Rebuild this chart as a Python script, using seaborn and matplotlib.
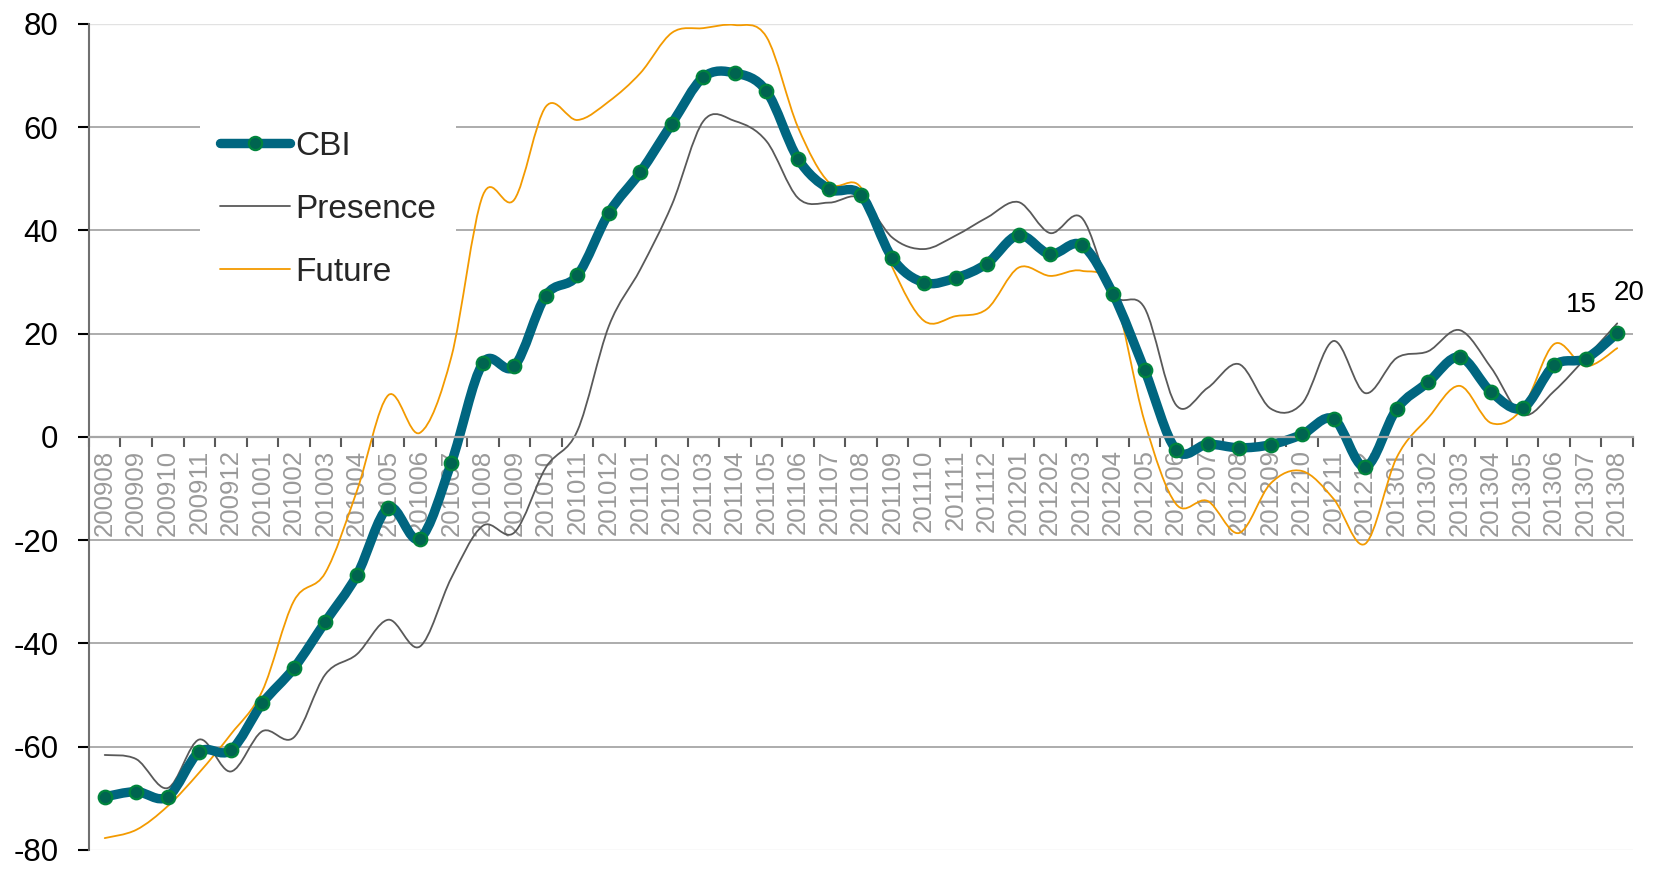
import matplotlib
matplotlib.use("Agg")
import matplotlib.pyplot as plt
from matplotlib.path import Path
from matplotlib.patches import PathPatch
from matplotlib.lines import Line2D
import numpy as np
import pandas as pd
import seaborn as sns

# monthly values
months = ['200908', '200909', '200910', '200911', '200912',
          '201001', '201002', '201003', '201004', '201005', '201006',
          '201007', '201008', '201009', '201010', '201011', '201012',
          '201101', '201102', '201103', '201104', '201105', '201106',
          '201107', '201108', '201109', '201110', '201111', '201112',
          '201201', '201202', '201203', '201204', '201205', '201206',
          '201207', '201208', '201209', '201210', '201211', '201212',
          '201301', '201302', '201303', '201304', '201305', '201306',
          '201307', '201308']

cbi = [-69.7, -68.7, -69.7, -61.0, -60.7, -51.6, -44.8, -35.8, -26.8, -13.7,
       -19.7, -5.0, 14.3, 13.7, 27.4, 31.3, 43.4, 51.3, 60.7, 69.7,
       70.5, 67.0, 53.9, 48.0, 46.9, 34.6, 29.9, 30.8, 33.6, 39.1,
       35.4, 37.2, 27.7, 13.0, -2.5, -1.4, -2.1, -1.5, 0.5, 3.5,
       -5.8, 5.4, 10.6, 15.5, 8.7, 5.6, 13.9, 15.2, 20.1]

presence = [-61.6, -62.4, -68.0, -58.6, -64.8, -57.0, -58.2, -46.0, -42.1, -35.4,
            -40.6, -27.3, -17.2, -18.5, -5.9, 1.2, 21.5, 32.5, 45.0, 61.2,
            61.2, 57.3, 46.3, 45.4, 46.3, 38.6, 36.4, 39.0, 42.5, 45.5,
            39.5, 42.5, 27.7, 25.0, 6.2, 9.5, 14.1, 5.5, 6.5, 18.6,
            8.5, 15.3, 16.6, 20.7, 13.4, 4.3, 8.9, 15.3, 22.0]

future = [-77.7, -76.1, -71.5, -65.0, -57.6, -49.2, -31.8, -26.3, -10.5, 8.1,
          0.8, 15.5, 46.8, 46.0, 64.0, 61.4, 65.0, 70.5, 78.3, 79.2,
          79.8, 77.5, 60.0, 49.2, 48.3, 32.8, 22.5, 23.4, 24.8, 32.8,
          31.2, 32.2, 28.3, 3.0, -13.0, -12.4, -18.6, -9.0, -6.6, -12.0,
          -20.7, -4.0, 3.7, 9.9, 2.7, 5.6, 18.0, 13.7, 17.2]

labelled = ['201307', '201308']

CBI_COLOR = '#006680'
DOT_FACE = '#006450'
DOT_EDGE = '#00843d'
PRES_COLOR = '#595959'
FUT_COLOR = '#f39a00'
GRID_COLOR = '#a6a6a6'

df = pd.DataFrame({'month': months, 'pos': np.arange(len(months)),
                   'CBI': cbi, 'Presence': presence, 'Future': future})


def smooth_path(xs, ys):
    # excel style smoothed line: cubic bezier through every point
    pts = np.column_stack([np.asarray(xs, float), np.asarray(ys, float)])
    n = len(pts)
    verts = [pts[0]]
    codes = [Path.MOVETO]
    for i in range(n - 1):
        p0 = pts[max(i - 1, 0)]
        p1 = pts[i]
        p2 = pts[i + 1]
        p3 = pts[min(i + 2, n - 1)]
        verts += [p1 + (p2 - p0) / 6, p2 - (p3 - p1) / 6, p2]
        codes += [Path.CURVE4] * 3
    return Path(verts, codes)


sns.set_style('white')
plt.rcParams['font.family'] = ['Liberation Sans', 'DejaVu Sans']
plt.rcParams['axes.unicode_minus'] = False

fig = plt.figure(figsize=(16.57, 8.69), dpi=100)
ax = fig.add_axes([0.0537, 0.0219, 0.9318, 0.9505])

# gridlines behind the data
for v in [-60, -40, -20, 20, 40, 60]:
    ax.axhline(v, color=GRID_COLOR, lw=1.3, zorder=0.5)
for v in [-80, 80]:
    ax.axhline(v, color='#e2e2e2', lw=1.0, zorder=0.5)

for col, color, lw, z in [('Future', FUT_COLOR, 1.3, 2),
                          ('Presence', PRES_COLOR, 1.3, 2.1),
                          ('CBI', CBI_COLOR, 6.8, 2.2)]:
    ax.add_patch(PathPatch(smooth_path(df['pos'], df[col]), fill=False,
                           edgecolor=color, lw=lw, capstyle='round',
                           joinstyle='round', zorder=z))

sns.scatterplot(data=df, x='pos', y='CBI', ax=ax, s=95, color=DOT_FACE,
                edgecolor=DOT_EDGE, linewidth=1.6, zorder=3, legend=False)

# data labels on the last two points
for m, dx, dy in [(labelled[0], -4, 54), (labelled[1], 12, 40)]:
    row = df[df['month'] == m].iloc[0]
    ax.annotate(f"{row['CBI']:.0f}", (row['pos'], row['CBI']),
                xytext=(dx, dy), textcoords='offset pixels',
                ha='center', va='center', fontsize=20, color='black',
                annotation_clip=False)

ax.set_xlim(-0.5, len(months) - 0.5)
ax.set_ylim(-80, 80)
ax.set_xlabel('')
ax.set_ylabel('')

ax.set_yticks(range(-80, 81, 20))
ax.tick_params(axis='y', which='major', left=True, length=8, width=1.5,
               color='black', labelsize=22.5, labelcolor='black', pad=14)

ax.set_xticks(list(df['pos']))
ax.set_xticklabels(months)
ax.set_xticks(np.arange(-0.5, len(months), 1), minor=True)
ax.tick_params(axis='x', which='major', bottom=True, length=0,
               labelsize=18.5, labelcolor='#9a9a9a', pad=9,
               labelrotation=90)
ax.tick_params(axis='x', which='minor', bottom=True, length=7, width=1.5,
               color='#595959')

ax.spines['top'].set_visible(False)
ax.spines['right'].set_visible(False)
ax.spines['bottom'].set_position(('data', 0))
ax.spines['bottom'].set_color(GRID_COLOR)
ax.spines['bottom'].set_linewidth(1.6)
ax.spines['left'].set_color('#707070')
ax.spines['left'].set_linewidth(1.5)

handles = [
    Line2D([], [], color=CBI_COLOR, lw=6.8, marker='o', markersize=9.5,
           markerfacecolor=DOT_FACE, markeredgecolor=DOT_EDGE,
           markeredgewidth=1.6, solid_capstyle='round'),
    Line2D([], [], color=PRES_COLOR, lw=1.3),
    Line2D([], [], color=FUT_COLOR, lw=1.3),
]
leg = ax.legend(handles, ['CBI', 'Presence', 'Future'], loc='upper left',
                bbox_to_anchor=(0.072, 0.895), fontsize=24, frameon=True,
                fancybox=False, framealpha=1, facecolor='white',
                edgecolor='none', handlelength=2.1, handletextpad=0.15,
                labelspacing=0.96, borderpad=0.6, borderaxespad=0)
leg.set_zorder(5)

fig.savefig('out.png', dpi=100)
